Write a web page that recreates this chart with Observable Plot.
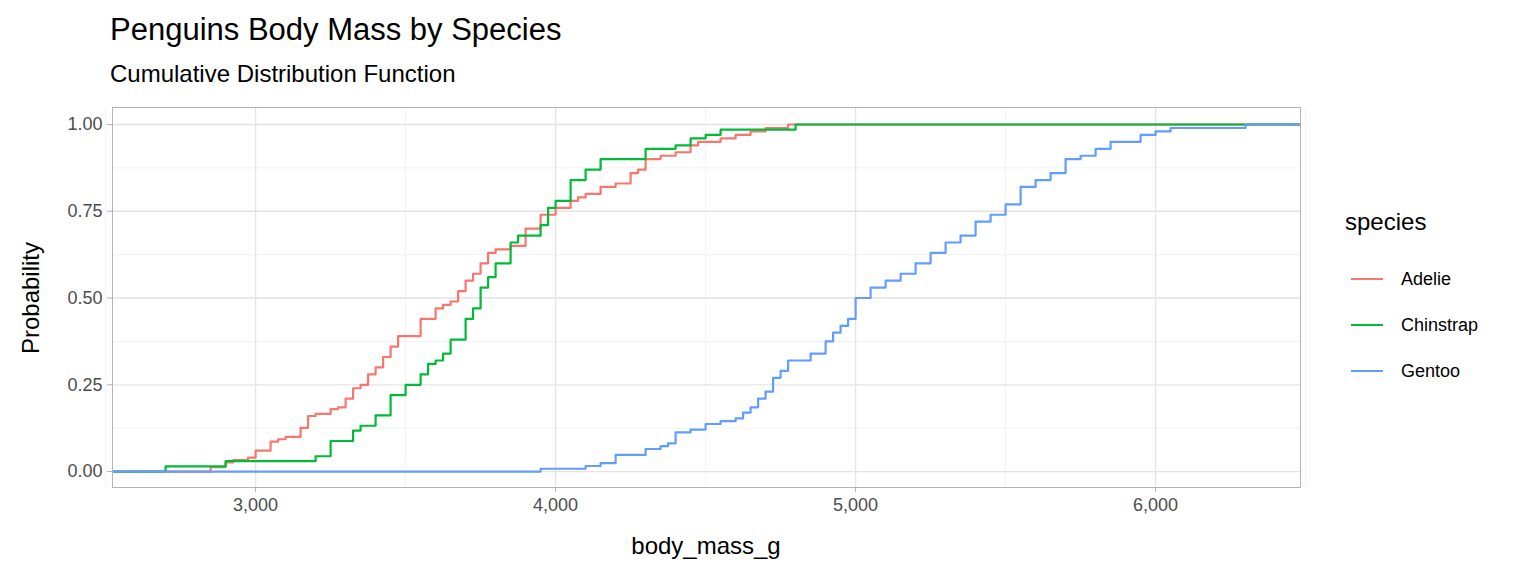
<!DOCTYPE html>
<html><head><meta charset="utf-8">
<script src="https://cdn.jsdelivr.net/npm/d3@7"></script>
<script src="https://cdn.jsdelivr.net/npm/@observablehq/plot@0.6"></script>
<style>
body{margin:0;width:1536px;height:576px;position:relative;font-family:"Liberation Sans",Arial,sans-serif;background:#fff;overflow:hidden}
.abs{position:absolute;white-space:nowrap;color:#000}
#plot{position:absolute;left:0;top:95px}
</style></head><body>
<div class="abs" style="left:110px;top:12px;font-size:31px">Penguins Body Mass by Species</div>
<div class="abs" style="left:110px;top:60px;font-size:24px">Cumulative Distribution Function</div>
<div class="abs" style="left:706px;top:532px;font-size:24px;transform:translateX(-50%)">body_mass_g</div>
<div class="abs" style="left:31px;top:298px;font-size:24px;transform:translate(-50%,-50%) rotate(-90deg)">Probability</div>
<div id="plot"></div>
<div id="legend" class="abs" style="left:1345px;top:208px"></div>
<script>
const species = ["Adelie", "Chinstrap", "Gentoo"];
const colors = ["#F8766D", "#00BA38", "#619CFF"];

const adelie = [[2850,0.013],[2900,0.026],[2925,0.033],[2975,0.04],[3000,0.06],[3050,0.086],[3075,0.093],[3100,0.1],[3150,0.126],[3175,0.16],[3200,0.166],[3250,0.18],[3275,0.185],[3300,0.21],[3325,0.24],[3350,0.25],[3375,0.28],[3400,0.3],[3425,0.33],[3450,0.36],[3475,0.39],[3550,0.44],[3600,0.47],[3625,0.48],[3650,0.49],[3675,0.52],[3700,0.55],[3725,0.57],[3750,0.6],[3775,0.63],[3800,0.64],[3850,0.65],[3900,0.7],[3950,0.74],[4000,0.76],[4050,0.78],[4075,0.79],[4100,0.8],[4150,0.82],[4200,0.83],[4250,0.86],[4275,0.87],[4300,0.9],[4350,0.91],[4400,0.92],[4450,0.94],[4475,0.95],[4550,0.96],[4600,0.97],[4650,0.98],[4700,0.99],[4775,1.0]];
const chinstrap = [[2700,0.015],[2900,0.03],[3200,0.044],[3250,0.088],[3325,0.118],[3350,0.132],[3400,0.162],[3450,0.22],[3500,0.25],[3550,0.28],[3575,0.31],[3600,0.32],[3625,0.34],[3650,0.38],[3700,0.44],[3725,0.47],[3750,0.53],[3775,0.56],[3800,0.6],[3850,0.66],[3875,0.68],[3950,0.71],[3975,0.76],[4000,0.78],[4050,0.84],[4100,0.87],[4150,0.9],[4300,0.93],[4400,0.94],[4450,0.96],[4500,0.97],[4550,0.985],[4800,1.0]];
const gentoo = [[3950,0.008],[4100,0.016],[4150,0.024],[4200,0.048],[4300,0.065],[4350,0.073],[4375,0.081],[4400,0.113],[4450,0.121],[4500,0.137],[4550,0.145],[4600,0.153],[4625,0.17],[4650,0.185],[4675,0.21],[4700,0.23],[4725,0.27],[4750,0.29],[4775,0.32],[4850,0.34],[4900,0.375],[4925,0.4],[4950,0.42],[4975,0.44],[5000,0.45],[5000,0.5],[5050,0.53],[5100,0.55],[5150,0.57],[5200,0.6],[5250,0.63],[5300,0.66],[5350,0.68],[5400,0.72],[5450,0.74],[5500,0.77],[5550,0.82],[5600,0.84],[5650,0.86],[5700,0.9],[5750,0.91],[5800,0.93],[5850,0.95],[5950,0.97],[6000,0.98],[6050,0.99],[6300,1.0]];

const xTicks = [3000, 4000, 5000, 6000];
const xMinor = [2500, 3500, 4500, 5500, 6500];
const yTicks = [0, 0.25, 0.5, 0.75, 1];
const yMinor = [0.125, 0.375, 0.625, 0.875];

const rows = [];
[adelie, chinstrap, gentoo].forEach((pts, i) => {
  rows.push({species: species[i], x: 2000, y: 0});
  pts.forEach(([x, y]) => rows.push({species: species[i], x, y}));
  rows.push({species: species[i], x: 7000, y: 1});
});

const plot = Plot.plot({
  width: 1536, height: 481,
  marginLeft: 112, marginRight: 236, marginTop: 12, marginBottom: 89,
  style: {fontFamily: "Liberation Sans, Arial, sans-serif", fontSize: "18px", color: "#4d4d4d"},
  x: {domain: [2523, 6483]},
  y: {domain: [-0.046, 1.049]},
  color: {domain: species, range: colors},
  marks: [
    Plot.ruleX(xMinor, {stroke: "#f2f2f2", strokeWidth: 1}),
    Plot.ruleY(yMinor, {stroke: "#f2f2f2", strokeWidth: 1}),
    Plot.ruleX(xTicks, {stroke: "#e3e3e3", strokeWidth: 1.3}),
    Plot.ruleY(yTicks, {stroke: "#e3e3e3", strokeWidth: 1.3}),
    Plot.line(rows, {x: "x", y: "y", z: "species", stroke: "species", curve: "step-after", strokeWidth: 2.2, clip: true}),
    Plot.frame({stroke: "#b3b3b3"}),
    Plot.axisX({ticks: xTicks, tickSize: 5, tickPadding: 6, label: null, stroke: "#b3b3b3", fill: "#4d4d4d"}),
    Plot.axisY({ticks: yTicks, tickFormat: d3.format(".2f"), tickSize: 5, tickPadding: 5, label: null, stroke: "#b3b3b3", fill: "#4d4d4d"})
  ]
});
document.querySelector("#plot").append(plot);

const lg = document.querySelector("#legend");
lg.innerHTML = `<div style="font-size:24px;margin-bottom:20px">species</div>` +
  species.map((s, i) => `<div style="display:flex;align-items:center;height:46px;font-size:18px">
    <span style="display:inline-block;width:32px;height:2.2px;background:${colors[i]};margin:0 18px 0 6px"></span>${s}</div>`).join("");
</script>
</body></html>
